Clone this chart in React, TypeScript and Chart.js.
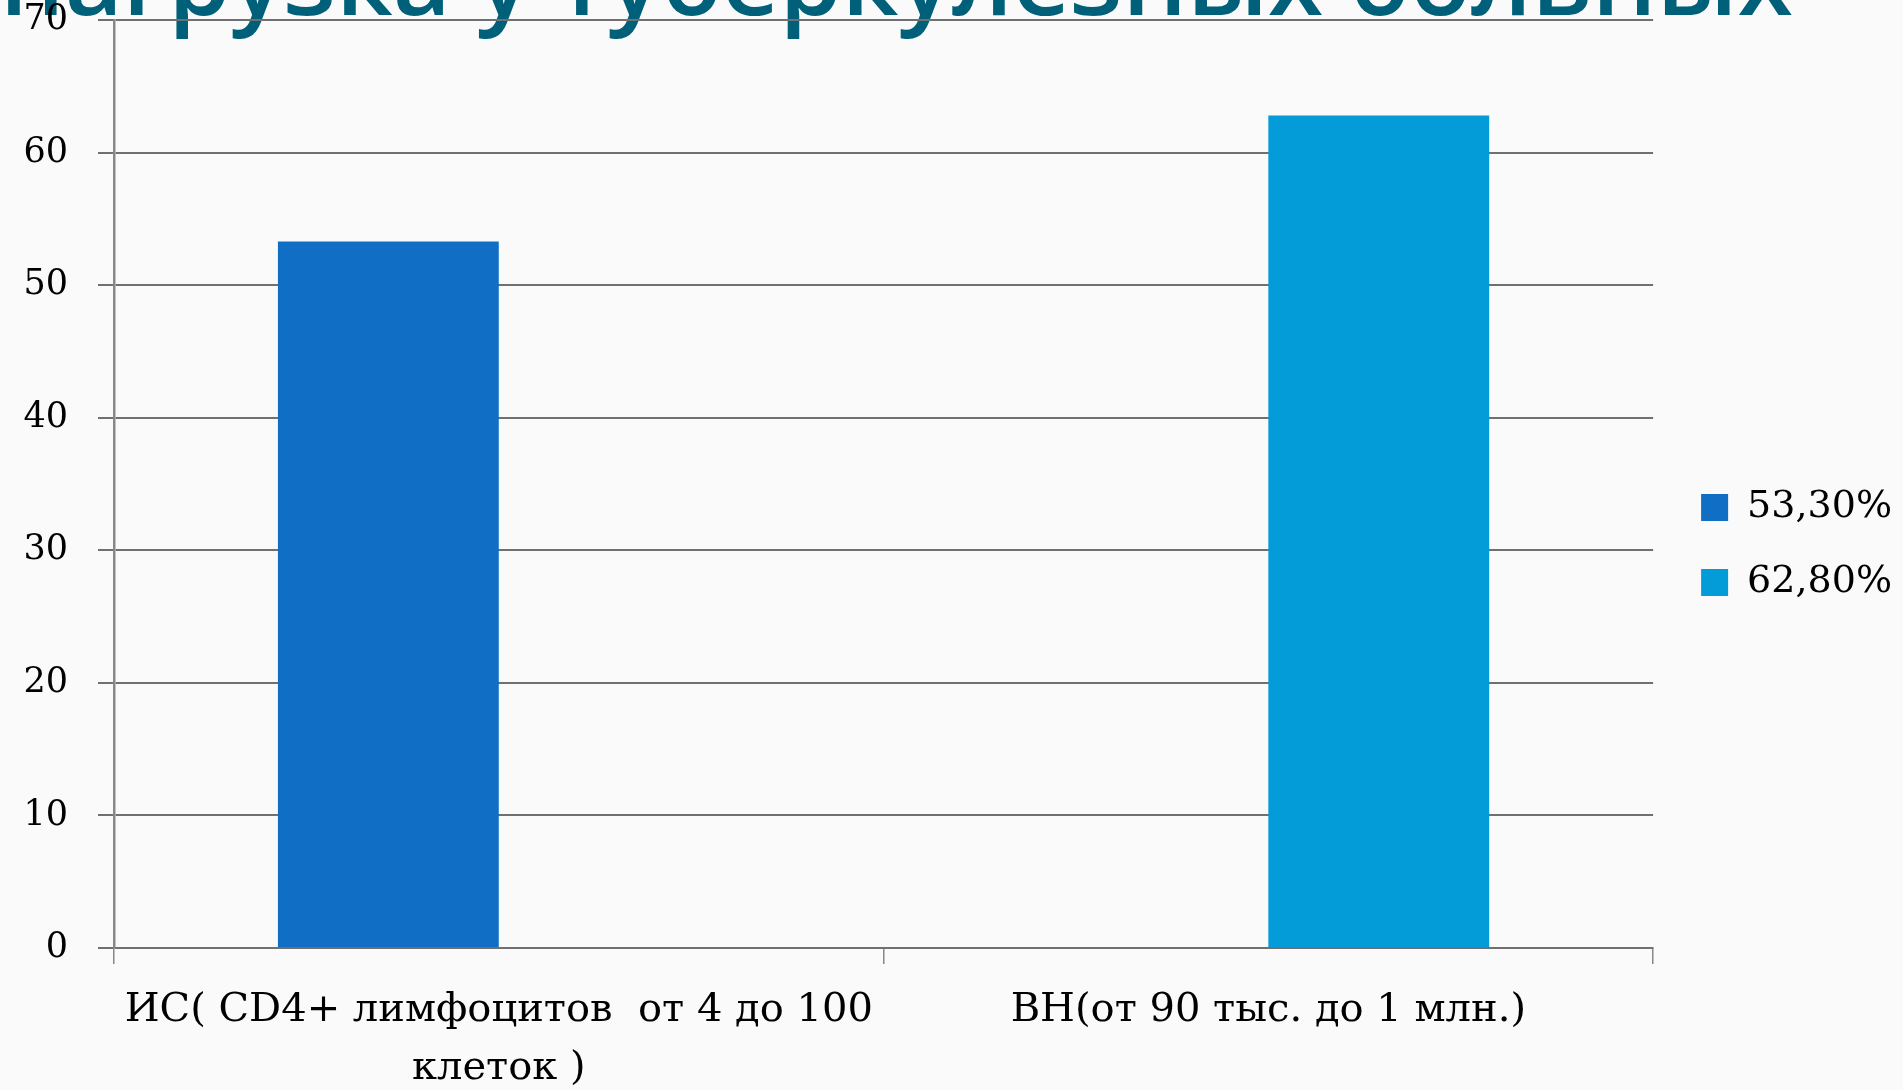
import React, { useEffect, useRef } from "react";
import { Chart, registerables } from "chart.js";

Chart.register(...registerables);

const categories: (string | string[])[] = [
  ["ИС( CD4+ лимфоцитов  от 4 до 100", "клеток )"],
  "ВН(от 90 тыс. до 1 млн.)",
];
const seriesNames = ["53,30%", "62,80%"];
const series1 = [53.3, null];
const series2 = [null, 62.8];
const seriesColors = ["#106EC4", "#039CD8"];
const titleText = "нагрузка у туберкулезных больных";
const yMin = 0;
const yMax = 70;
const yStep = 10;

const W = 1903;
const H = 1090;

export default function App() {
  const ref = useRef<HTMLCanvasElement | null>(null);

  useEffect(() => {
    document.body.style.margin = "0";
    const canvas = ref.current;
    if (!canvas) return;

    const bgPlugin = {
      id: "bgTitle",
      beforeDraw(chart: any) {
        const ctx = chart.ctx;
        ctx.save();
        ctx.fillStyle = "#FAFAFA";
        ctx.fillRect(0, 0, chart.width, chart.height);
        ctx.fillStyle = "#00607A";
        ctx.font = "600 100px 'Open Sans'";
        ctx.textAlign = "left";
        ctx.textBaseline = "alphabetic";
        ctx.fillText(titleText, 0, 15);
        ctx.restore();
      },
    };

    const chart = new Chart(canvas, {
      type: "bar",
      data: {
        labels: categories,
        datasets: [
          {
            label: seriesNames[0],
            data: series1,
            backgroundColor: seriesColors[0],
            borderWidth: 0,
          },
          {
            label: seriesNames[1],
            data: series2,
            backgroundColor: seriesColors[1],
            borderWidth: 0,
          },
        ],
      },
      options: {
        responsive: false,
        animation: false,
        devicePixelRatio: 1,
        layout: { padding: { top: 0, right: 1, bottom: 0, left: 0 } },
        datasets: {
          bar: { categoryPercentage: 0.574, barPercentage: 1 },
        },
        plugins: {
          legend: {
            position: "right",
            align: "center",
            labels: {
              boxWidth: 27,
              boxHeight: 27,
              padding: 37,
              color: "#000",
              font: { family: "'DejaVu Serif'", size: 38 },
            },
          },
          tooltip: { enabled: false },
          title: { display: false },
        },
        scales: {
          x: {
            afterFit: (s: any) => {
              s.height = 142;
            },
            grid: {
              display: true,
              drawOnChartArea: false,
              drawTicks: true,
              tickLength: 16,
              color: "#888888",
              lineWidth: 1.5,
            },
            border: { display: true, color: "#707070", width: 2 },
            ticks: {
              color: "#000",
              padding: 18,
              maxRotation: 0,
              autoSkip: false,
              font: { family: "'DejaVu Serif'", size: 40, lineHeight: 1.45 },
            },
          },
          y: {
            min: yMin,
            max: yMax,
            afterFit: (s: any) => {
              s.width = 114;
              s.paddingTop = 20;
            },
            grid: {
              color: "#707070",
              lineWidth: 2,
              tickLength: 16,
              drawTicks: true,
            },
            border: { display: true, color: "#888888", width: 2.5 },
            ticks: {
              stepSize: yStep,
              color: "#000",
              padding: 30,
              font: { family: "'DejaVu Serif'", size: 35 },
            },
          },
          y2: {
            type: "linear",
            position: "right",
            display: true,
            min: yMin,
            max: yMax,
            afterFit: (s: any) => {
              s.width = 11;
            },
            grid: { display: false },
            border: { display: false },
            ticks: { display: false },
          },
        },
      },
      plugins: [bgPlugin],
    } as any);

    return () => chart.destroy();
  }, []);

  return (
    <div style={{ position: "fixed", left: 0, top: 0, width: W, height: H, background: "#FAFAFA" }}>
      <canvas ref={ref} width={W} height={H} style={{ width: W, height: H, display: "block" }} />
    </div>
  );
}
